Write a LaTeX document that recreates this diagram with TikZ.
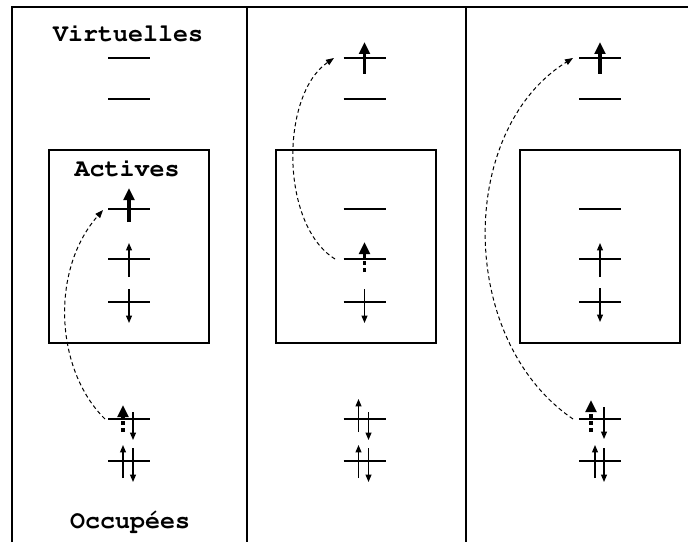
\documentclass[tikz,border=0pt]{standalone}
\usepackage[T1,TU]{fontenc}
\usepackage{tikz}
\usetikzlibrary{arrows.meta}

\tikzset{
  border/.style={line width=1.1pt},
  orbital/.style={line width=1pt},
  spin/.style={line width=0.9pt,-{Triangle[length=5.5pt,width=4.4pt]}},
  bigspin/.style={line width=2.3pt,-{Triangle[length=9pt,width=8pt]}},
  halfspin/.style={bigspin,dash pattern=on 3pt off 2.4pt},
  jump/.style={line width=0.75pt,dash pattern=on 3pt off 2.2pt,-{Triangle[length=6pt,width=4.6pt]}},
  title/.style={anchor=base,font=\fontencoding{T1}\fontfamily{pcr}\fontseries{b}\fontsize{18.75}{22}\selectfont}
}

\begin{document}
\begin{tikzpicture}[x=0.75pt,y=-0.75pt]
    \useasboundingbox (0,0) rectangle (688,542);
    % frame and columns
    \draw[border] (12,542) -- (12,7) -- (688,7);
    \draw[border] (247,7) -- (247,542);
    \draw[border] (466,7) -- (466,542);
    % active spaces
    \draw[border] (49,150) rectangle (209,343);
    \draw[border] (276,150) rectangle (436,343);
    \draw[border] (520,150) rectangle (680,343);
    % levels
    \foreach \c/\x in {1/129,2/364.5,3/600} {
        \foreach \l/\y in {1/58,2/99,3/209,4/259,5/302,6/419,7/461} {
            \coordinate (l\c\l) at (\x,\y);
            \draw[orbital] (\x-21,\y) -- (\x+21,\y);
        }
    }
    \node[title] (virt) at (128,42) {Virtuelles};
    \node[title] (act) at (127,176) {Actives};
    \node[title] (occ) at (130,528) {Occup\'ees};
    % first column
    \draw[bigspin] (l13) ++(0,13) -- ++(0,-34);
    \draw[spin] (l14) ++(0,18) -- ++(0,-34);
    \draw[spin] (l15) ++(0,-13) -- ++(0,34);
    \draw[halfspin] (l16) ++(-6,13) -- ++(0,-27);
    \draw[spin] (l16) ++(4,-7) -- ++(0,28);
    \draw[spin] (l17) ++(-6,17) -- ++(0,-33);
    \draw[spin] (l17) ++(4,-13) -- ++(0,34);
    \coordinate (from1) at (105,419);
    \coordinate (to1) at (103,210);
    \draw[jump] (from1) .. controls (55,370) and (50,270) .. (to1);
    % second column
    \draw[bigspin] (l21) ++(0,16) -- ++(0,-32);
    \draw[halfspin] (l24) ++(0,13) -- ++(0,-30);
    \draw[spin] (l25) ++(0,-13) -- ++(0,34);
    \draw[spin] (l26) ++(-6,13) -- ++(0,-33);
    \draw[spin] (l26) ++(4,-7) -- ++(0,28);
    \draw[spin] (l27) ++(-6,17) -- ++(0,-33);
    \draw[spin] (l27) ++(4,-13) -- ++(0,34);
    \coordinate (from2) at (335,259);
    \coordinate (to2) at (334,58);
    \draw[jump] (from2) .. controls (280,225) and (280,95) .. (to2);
    % third column
    \draw[bigspin] (l31) ++(0,16) -- ++(0,-32);
    \draw[spin] (l34) ++(0,18) -- ++(0,-34);
    \draw[spin] (l35) ++(0,-14) -- ++(0,34);
    \draw[halfspin] (l36) ++(-9,13) -- ++(0,-32);
    \draw[spin] (l36) ++(4,-12) -- ++(0,32);
    \draw[spin] (l37) ++(-5,17) -- ++(0,-33);
    \draw[spin] (l37) ++(4,-13) -- ++(0,34);
    \coordinate (from3) at (573,419);
    \coordinate (to3) at (573,58);
    \draw[jump] (from3) .. controls (457,340) and (457,130) .. (to3);
\end{tikzpicture}
\end{document}
